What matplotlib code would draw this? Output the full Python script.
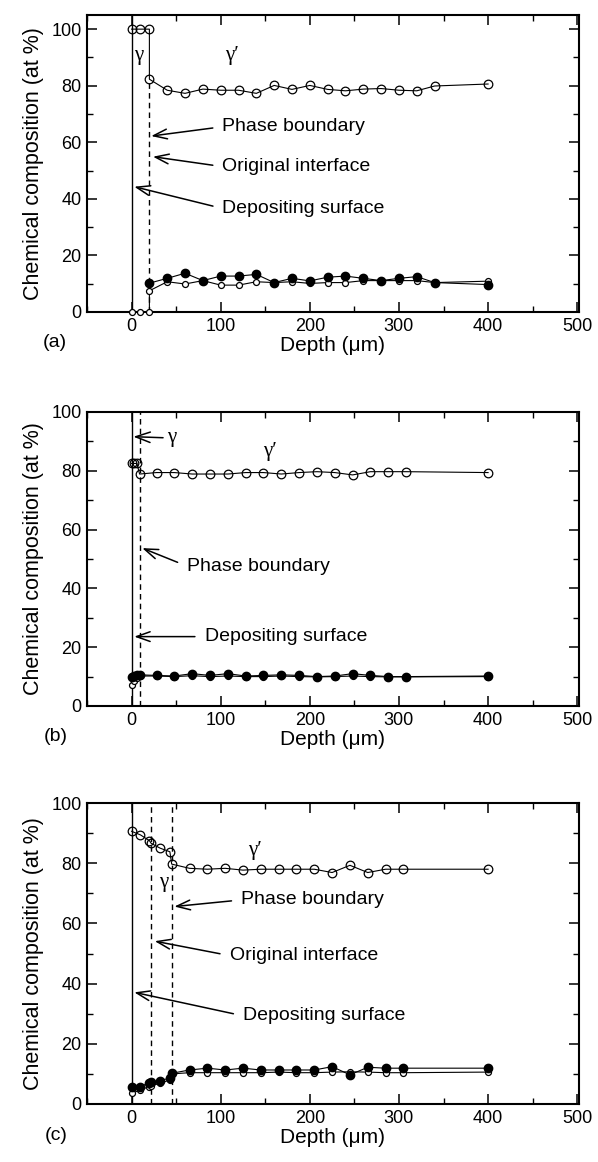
import numpy as np
import matplotlib.pyplot as plt
from matplotlib.ticker import MultipleLocator

plt.rcParams['font.family'] = ['Liberation Sans', 'DejaVu Sans']

W, H = 598, 1162

# ---- panel (a) ----
a_depth_major = [0, 10, 20, 20, 40, 60, 80, 100, 120, 140, 160, 180, 200, 220,
                 240, 260, 280, 300, 320, 340, 400]
a_major = [100, 100, 100, 82.3, 78.4, 77.3, 78.8, 78.4, 78.4, 77.3, 80.1, 78.7,
           80.1, 78.7, 78.2, 78.8, 79.0, 78.4, 78.2, 79.9, 80.6]
a_depth_filled = [20, 40, 60, 80, 100, 120, 140, 160, 180, 200, 220, 240, 260,
                  280, 300, 320, 340, 400]
a_filled = [10.2, 11.9, 13.7, 11.1, 12.7, 12.7, 13.3, 10.4, 11.9, 11.0, 12.3,
            12.7, 11.9, 11.1, 11.9, 12.5, 10.4, 9.7]
a_depth_small = [0, 10, 20, 20, 40, 60, 80, 100, 120, 140, 160, 180, 200, 220,
                 240, 260, 280, 300, 320, 340, 400]
a_small = [0, 0, 0, 7.5, 10.7, 9.9, 11.1, 9.5, 9.5, 10.7, 10.4, 10.7, 10.1, 10.4,
           10.4, 11.1, 11.1, 11.1, 11.1, 10.4, 10.9]

# ---- panel (b) ----
b_depth = [0, 3, 6, 9, 28, 48, 68, 88, 108, 128, 148, 168, 188, 208, 228, 248,
           268, 288, 308, 400]
b_major = [82.5, 82.5, 82.5, 78.9, 79.4, 79.4, 78.9, 78.9, 78.9, 79.4, 79.4,
           78.9, 79.4, 79.7, 79.4, 78.6, 79.7, 79.7, 79.7, 79.4]
b_filled = [10.0, 10.2, 10.4, 10.6, 10.4, 10.2, 11.0, 10.4, 11.0, 10.2, 10.4,
            10.6, 10.4, 10.0, 10.2, 11.0, 10.4, 10.0, 10.0, 10.2]
b_small = [7.0, 8.5, 9.5, 10.2, 10.2, 10.0, 10.3, 10.0, 10.2, 10.0, 10.0, 10.2,
           10.0, 9.9, 10.0, 10.2, 10.0, 9.9, 9.9, 10.0]

# ---- panel (c) ----
c_depth = [0, 10, 20, 22, 32, 43, 45, 65, 85, 105, 125, 145, 165, 185, 205, 225,
           245, 265, 285, 305, 400]
c_major = [90.6, 89.4, 87.5, 86.6, 85.0, 83.8, 79.7, 78.3, 78.0, 78.3, 77.7,
           78.0, 78.0, 78.0, 78.0, 76.9, 79.3, 76.9, 78.0, 78.0, 78.0]
c_filled = [5.8, 5.8, 7.1, 7.3, 7.8, 8.6, 10.2, 11.3, 11.9, 11.3, 11.9, 11.3,
            11.3, 11.3, 11.3, 12.4, 9.7, 12.2, 11.9, 11.9, 11.9]
c_small = [3.5, 4.7, 5.8, 6.0, 6.9, 8.0, 10.0, 10.4, 10.4, 10.4, 10.4, 10.4,
           10.6, 10.4, 10.4, 10.6, 10.7, 10.6, 10.4, 10.4, 10.6]

# reference lines: (depth, ymin, ymax)
a_surface, a_dashed = (0, 0, 105), [(20, 0, 82)]
b_surface, b_dashed = (0, 0, 100), [(10, 0, 100)]
c_surface, c_dashed = (0, 0, 100), [(22, 0, 100), (45, 0, 100)]

fig = plt.figure(figsize=(W / 100, H / 100), dpi=100)


def px_axes(top, bottom, left=87, right=579):
    return fig.add_axes([left / W, 1 - bottom / H, (right - left) / W, (bottom - top) / H])


def draw(ax, dmaj, ymaj, dfil, yfil, dsm, ysm, surface, dashed, ytop, letter):
    ax.vlines(surface[0], surface[1], surface[2], color='black', lw=1.0, zorder=1)
    for d, y0, y1 in dashed:
        ax.vlines(d, y0, y1, color='black', lw=1.0, linestyles=(0, (4, 3)), zorder=1)
    ax.plot(dsm, ysm, '-o', color='black', lw=0.8, ms=4.3, mfc='white', mew=0.9,
            zorder=3, clip_on=False)
    ax.plot(dfil, yfil, '-o', color='black', lw=0.8, ms=6, mfc='black', zorder=4,
            clip_on=False)
    ax.plot(dmaj, ymaj, '-o', color='black', lw=0.8, ms=6.2, mfc='none', mew=0.9,
            zorder=5, clip_on=False)
    ax.set_xlim(-50, 502)
    ax.set_ylim(0, ytop)
    ax.xaxis.set_major_locator(MultipleLocator(100))
    ax.xaxis.set_minor_locator(MultipleLocator(50))
    ax.yaxis.set_major_locator(MultipleLocator(20))
    ax.yaxis.set_minor_locator(MultipleLocator(10))
    ax.tick_params(which='both', direction='in', top=True, right=True, labelsize=13)
    ax.tick_params(which='major', length=7, width=1.1, pad=4)
    ax.tick_params(which='minor', length=4.5, width=1.0)
    for s in ax.spines.values():
        s.set_linewidth(1.5)
    ax.set_ylabel('Chemical composition (at %)', fontsize=15.5, labelpad=5)
    ax.set_xlabel('Depth (\u03bcm)', fontsize=15, labelpad=1)
    ax.text(-0.04, -0.075, letter, transform=ax.transAxes, fontsize=14, ha='right', va='top')


def note(ax, text, xy, xytext):
    ax.annotate(text, xy=xy, xytext=xytext, fontsize=14, ha='left', va='center',
                arrowprops=dict(arrowstyle='->,head_length=0.7,head_width=0.25', lw=1.1,
                                color='black', relpos=(0, 0.5), shrinkA=5, shrinkB=0))


def greek(ax, text, xy):
    ax.text(xy[0], xy[1], text, fontsize=15, family='Liberation Serif', ha='center', va='center')


ax_a = px_axes(15, 312)
draw(ax_a, a_depth_major, a_major, a_depth_filled, a_filled, a_depth_small, a_small,
     a_surface, a_dashed, 105, '(a)')
greek(ax_a, '\u03b3', (8, 90.8))
greek(ax_a, "\u03b3\u2032", (113, 90.8))
note(ax_a, 'Phase boundary', (22, 62.2), (102, 65.5))
note(ax_a, 'Original interface', (24, 54.9), (102, 51.4))
note(ax_a, 'Depositing surface', (3, 44.3), (102, 36.6))

ax_b = px_axes(412, 706)
draw(ax_b, b_depth, b_major, b_depth, b_filled, b_depth, b_small,
     b_surface, b_dashed, 100, '(b)')
greek(ax_b, "\u03b3\u2032", (155, 86.5))
ax_b.annotate('\u03b3', xy=(2, 91.6), xytext=(40, 91.2), fontsize=15,
              family='Liberation Serif', ha='left', va='center',
              arrowprops=dict(arrowstyle='->,head_length=0.7,head_width=0.25', lw=1.1,
                              color='black', relpos=(0, 0.5), shrinkA=1, shrinkB=0))
note(ax_b, 'Phase boundary', (12, 53.7), (62, 47.6))
note(ax_b, 'Depositing surface', (3, 23.6), (82, 23.6))

ax_c = px_axes(803, 1104)
draw(ax_c, c_depth, c_major, c_depth, c_filled, c_depth, c_small,
     c_surface, c_dashed, 100, '(c)')
greek(ax_c, "\u03b3\u2032", (138, 84.1))
greek(ax_c, '\u03b3', (36, 73.6))
note(ax_c, 'Phase boundary', (48, 65.6), (123, 67.8))
note(ax_c, 'Original interface', (26, 54.1), (110, 49.3))
note(ax_c, 'Depositing surface', (3, 37.1), (125, 29.3))

fig.savefig('out.png', dpi=100)
